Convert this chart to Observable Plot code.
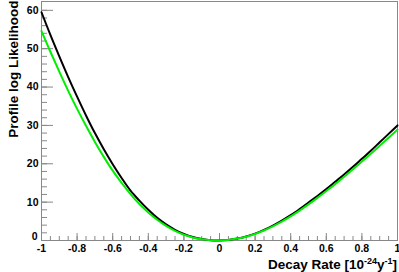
<!DOCTYPE html>
<html>
<head>
<meta charset="utf-8">
<script src="https://cdn.jsdelivr.net/npm/d3@7"></script>
<script src="https://cdn.jsdelivr.net/npm/@observablehq/plot@0.6"></script>
<style>
  html, body { margin: 0; padding: 0; background: #fff; }
  #chart { width: 399px; height: 272px; }
</style>
</head>
<body>
<div id="chart"></div>
<script>
const rates = [-1, -0.95, -0.9, -0.85, -0.8, -0.75, -0.7, -0.65, -0.6, -0.55, -0.5, -0.45, -0.4, -0.35, -0.3, -0.25, -0.2, -0.15, -0.1, -0.05, 0, 0.05, 0.1, 0.15, 0.2, 0.25, 0.3, 0.35, 0.4, 0.45, 0.5, 0.55, 0.6, 0.65, 0.7, 0.75, 0.8, 0.85, 0.9, 0.95, 1];
const blackLL = [59.5, 53.6, 48.0, 42.6, 37.5, 32.6, 28.0, 23.8, 19.9, 16.3, 13.0, 10.4, 8.0, 5.9, 4.2, 2.8, 1.7, 0.9, 0.4, 0.08, 0.02, 0.15, 0.5, 1.05, 1.8, 2.75, 3.9, 5.2, 6.6, 8.2, 9.9, 11.6, 13.4, 15.3, 17.2, 19.2, 21.3, 23.4, 25.6, 27.8, 30.0];
const greenLL = [54.6, 49.2, 44.0, 39.0, 34.3, 29.9, 25.7, 21.8, 18.2, 15.0, 12.1, 9.5, 7.3, 5.4, 3.8, 2.5, 1.5, 0.8, 0.3, 0.05, 0.02, 0.15, 0.5, 1.0, 1.7, 2.6, 3.7, 4.9, 6.3, 7.8, 9.4, 11.1, 12.9, 14.7, 16.6, 18.6, 20.6, 22.6, 24.7, 26.8, 28.9];
const xTicks = [-1, -0.8, -0.6, -0.4, -0.2, 0, 0.2, 0.4, 0.6, 0.8, 1];
const xTickLabels = ["-1", "-0.8", "-0.6", "-0.4", "-0.2", "0", "0.2", "0.4", "0.6", "0.8", "1"];
const xMinorTicks = d3.range(-1, 1.0001, 0.05).map(v => Math.round(v * 100) / 100);
const yTicks = [0, 10, 20, 30, 40, 50, 60];
const yZeroTick = [0];
const yMinorTicks = d3.range(0, 62, 2);
const yTitle = "Profile log Likelihood";
const xTitleParts = ["Decay Rate [10", "-24", "y", "-1", "]"];

const blackData = rates.map((r, i) => ({r, v: blackLL[i]}));
const greenData = rates.map((r, i) => ({r, v: greenLL[i]}));

const font = "'Liberation Sans', Arial, Helvetica, sans-serif";
const axisColor = "#888";

const plot = Plot.plot({
  width: 399,
  height: 272,
  marginLeft: 41,
  marginRight: 2,
  marginTop: 1,
  marginBottom: 32,
  style: {fontFamily: font, fontSize: "10.5px", fontWeight: "bold", background: "#fff", color: "#000"},
  x: {domain: [-1, 1]},
  y: {domain: [0, 62.3]},
  marks: [
    Plot.axisY(yMinorTicks, {tickSize: -6, text: null, stroke: axisColor, label: null}),
    Plot.axisY(yTicks, {tickSize: -12, tickPadding: 15, stroke: axisColor, label: null, fill: "#000",
      tickFormat: (d) => d === 0 ? "" : String(d)}),
    Plot.axisY(yZeroTick, {tickSize: 0, tickPadding: 4, label: null, fill: "#000", dy: -4}),
    Plot.axisX(xMinorTicks, {tickSize: -4, text: null, stroke: axisColor, label: null}),
    Plot.axisX(xTicks, {tickSize: -7, tickPadding: 11, stroke: axisColor, label: null, fill: "#000",
      tickFormat: (d) => xTickLabels[xTicks.indexOf(d)]}),
    Plot.frame({stroke: axisColor}),
    Plot.line(blackData, {x: "r", y: "v", stroke: "#000", strokeWidth: 2, curve: "catmull-rom"}),
    Plot.line(greenData, {x: "r", y: "v", stroke: "#00ee00", strokeWidth: 2, curve: "catmull-rom"}),
    Plot.text([yTitle], {frameAnchor: "top-left", text: d => d, rotate: -90, textAnchor: "end",
      dx: -33, dy: -1, fontSize: 13.5, fontWeight: "bold", fill: "#000"})
  ]
});

const svg = d3.select(plot);
const t = svg.append("text")
  .attr("x", 397).attr("y", 269)
  .attr("text-anchor", "end")
  .attr("font-family", font)
  .attr("font-size", 13.5)
  .attr("font-weight", "bold")
  .attr("fill", "#000");
t.append("tspan").text(xTitleParts[0]);
t.append("tspan").attr("dy", -5).attr("font-size", 9).text(xTitleParts[1]);
t.append("tspan").attr("dy", 5).text(xTitleParts[2]);
t.append("tspan").attr("dy", -5).attr("font-size", 9).text(xTitleParts[3]);
t.append("tspan").attr("dy", 5).text(xTitleParts[4]);

document.getElementById("chart").append(plot);
</script>
</body>
</html>
